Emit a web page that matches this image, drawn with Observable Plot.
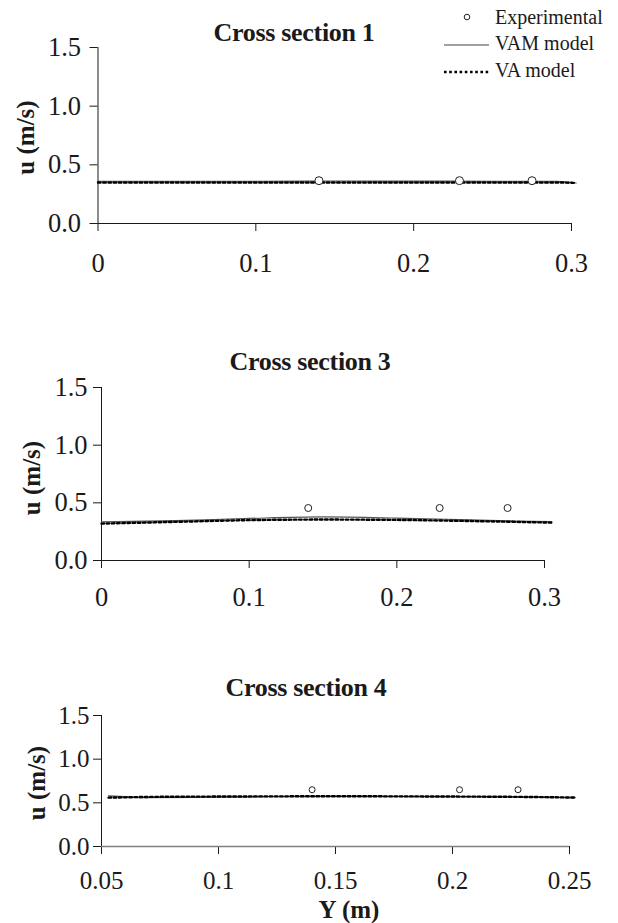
<!DOCTYPE html>
<html>
<head>
<meta charset="utf-8">
<script src="https://cdn.jsdelivr.net/npm/d3@7"></script>
<script src="https://cdn.jsdelivr.net/npm/@observablehq/plot@0.6"></script>
<style>
  html, body { margin: 0; padding: 0; background: #fff; }
  #wrap { position: relative; width: 618px; height: 923px; font-family: "Liberation Serif", "Times New Roman", serif; color: #1a1a1a; }
  .panel { position: absolute; left: 0; }
  .title { position: absolute; font-weight: bold; font-size: 26px; transform: translate(-50%, -50%); white-space: nowrap; letter-spacing: -0.3px; }
  .xlab { position: absolute; font-weight: bold; font-size: 25px; transform: translate(-50%, -50%); white-space: nowrap; }
  #legend { position: absolute; left: 0; top: 0; }
</style>
</head>
<body>
<div id="wrap"></div>
<script>
// ---------- data ----------
const titles = ["Cross section 1", "Cross section 3", "Cross section 4"];
const yLabel = "u (m/s)";
const xLabel = "Y (m)";
const legendLabels = ["Experimental", "VAM model", "VA model"];

const yTicks = [0, 0.5, 1, 1.5];
const yTickLabels = ["0.0", "0.5", "1.0", "1.5"];

// Cross section 1
const xTicks1 = [0, 0.1, 0.2, 0.3];
const xTickLabels1 = ["0", "0.1", "0.2", "0.3"];
const modelX1 = [0, 0.05, 0.1, 0.15, 0.2, 0.25, 0.29, 0.303];
const vam1 = [0.36, 0.36, 0.36, 0.362, 0.362, 0.36, 0.36, 0.345];
const va1 = [0.35, 0.35, 0.35, 0.35, 0.35, 0.35, 0.35, 0.345];
const expX1 = [0.14, 0.229, 0.275];
const expY1 = [0.365, 0.365, 0.365];

// Cross section 3
const xTicks3 = [0, 0.1, 0.2, 0.3];
const xTickLabels3 = ["0", "0.1", "0.2", "0.3"];
const modelX3 = [0, 0.05, 0.1, 0.15, 0.2, 0.25, 0.28, 0.305];
const vam3 = [0.335, 0.345, 0.365, 0.378, 0.368, 0.352, 0.342, 0.338];
const va3 = [0.32, 0.335, 0.35, 0.355, 0.352, 0.342, 0.335, 0.328];
const expX3 = [0.14, 0.229, 0.275];
const expY3 = [0.455, 0.455, 0.455];

// Cross section 4
const xTicks4 = [0.05, 0.1, 0.15, 0.2, 0.25];
const xTickLabels4 = ["0.05", "0.1", "0.15", "0.2", "0.25"];
const modelX4 = [0.053, 0.06, 0.068, 0.1, 0.15, 0.2, 0.24, 0.2525];
const vam4 = [0.58, 0.57, 0.56, 0.565, 0.575, 0.572, 0.565, 0.56];
const va4 = [0.56, 0.563, 0.567, 0.572, 0.575, 0.572, 0.565, 0.56];
const expX4 = [0.14, 0.203, 0.228];
const expY4 = [0.65, 0.65, 0.65];

// ---------- drawing ----------
const wrap = document.getElementById("wrap");
const FONT = "Liberation Serif, Times New Roman, serif";
const DOTS = "2.6,2.6";

function panel(cfg) {
  const model = cfg.modelX.map((x, i) => ({x, vam: cfg.vam[i], va: cfg.va[i]}));
  const exp = cfg.expX.map((x, i) => ({x, y: cfg.expY[i]}));
  const xFmt = new Map(cfg.xTicks.map((t, i) => [t, cfg.xTickLabels[i]]));
  const yFmt = new Map(yTicks.map((t, i) => [t, yTickLabels[i]]));
  const chart = Plot.plot({
    width: 618,
    height: cfg.height,
    marginTop: cfg.mt, marginBottom: cfg.mb, marginLeft: cfg.ml, marginRight: cfg.mr,
    style: {fontFamily: FONT, fontSize: cfg.tickFont + "px", color: "#1a1a1a", background: "transparent", overflow: "visible"},
    x: {domain: cfg.xDomain, ticks: cfg.xTicks, tickFormat: d => xFmt.get(d), tickSize: 8, tickPadding: cfg.xPad, label: null, line: !cfg.grayX},
    y: {domain: [0, 1.5], ticks: yTicks, tickFormat: d => yFmt.get(d), tickSize: 8, tickPadding: cfg.yPad, label: null, line: true},
    marks: [
      cfg.grayX ? Plot.ruleY([0], {stroke: "#808080", strokeWidth: 1.6}) : null,
      Plot.line(model, {x: "x", y: "vam", stroke: "#555", strokeWidth: 1.2, curve: "monotone-x"}),
      Plot.line(model, {x: "x", y: "va", stroke: "#000", strokeWidth: 2.4, strokeDasharray: DOTS, curve: "monotone-x"}),
      Plot.dot(exp, {x: "x", y: "y", r: cfg.r, stroke: "#222", strokeWidth: 1, fill: "white"}),
      Plot.text([yLabel], {frameAnchor: "left", rotate: -90, dx: cfg.labelDx, dy: cfg.labelDy, fontWeight: "bold", fontSize: 25, textAnchor: "middle", fill: "#1a1a1a"})
    ]
  });
  chart.classList.add("panel");
  chart.style.top = cfg.top + "px";
  wrap.appendChild(chart);

  const t = document.createElement("div");
  t.className = "title";
  t.textContent = cfg.title;
  t.style.left = cfg.titleX + "px";
  t.style.top = cfg.titleY + "px";
  wrap.appendChild(t);
}

panel({title: titles[0], titleX: 294, titleY: 33, top: 0, height: 290, mt: 47, mb: 67, ml: 97.5, mr: 47,
  xDomain: [0, 0.3], xTicks: xTicks1, xTickLabels: xTickLabels1, xPad: 22, yPad: 9, tickFont: 26.5,
  modelX: modelX1, vam: vam1, va: va1, expX: expX1, expY: expY1, r: 4, labelDx: -72, labelDy: 2});

panel({title: titles[1], titleX: 310, titleY: 362, top: 330, height: 290, mt: 57, mb: 60, ml: 101, mr: 74,
  xDomain: [0, 0.3], xTicks: xTicks3, xTickLabels: xTickLabels3, xPad: 19, yPad: 6, tickFont: 26.5,
  modelX: modelX3, vam: vam3, va: va3, expX: expX3, expY: expY3, r: 3.5, labelDx: -70, labelDy: 4});

panel({title: titles[2], titleX: 306, titleY: 688, top: 660, height: 263, mt: 55, mb: 77, ml: 101, mr: 49,
  xDomain: [0.05, 0.25], xTicks: xTicks4, xTickLabels: xTickLabels4, xPad: 17, yPad: 4, tickFont: 25,
  modelX: modelX4, vam: vam4, va: va4, expX: expX4, expY: expY4, r: 3, labelDx: -65, labelDy: 2, grayX: true});

// x-axis label of the last panel
const xl = document.createElement("div");
xl.className = "xlab";
xl.textContent = xLabel;
xl.style.left = "349px";
xl.style.top = "910px";
wrap.appendChild(xl);

// legend (top right)
const NS = "http://www.w3.org/2000/svg";
const lg = document.createElementNS(NS, "svg");
lg.setAttribute("id", "legend");
lg.setAttribute("width", "618");
lg.setAttribute("height", "90");
const rows = [17, 43, 70];
legendLabels.forEach((lab, i) => {
  const y = rows[i];
  if (i === 0) {
    const c = document.createElementNS(NS, "circle");
    c.setAttribute("cx", 467); c.setAttribute("cy", y); c.setAttribute("r", 2.8);
    c.setAttribute("fill", "white"); c.setAttribute("stroke", "#222"); c.setAttribute("stroke-width", 1);
    lg.appendChild(c);
  } else {
    const l = document.createElementNS(NS, "line");
    l.setAttribute("x1", 444); l.setAttribute("x2", 489); l.setAttribute("y1", y + 2); l.setAttribute("y2", y + 2);
    l.setAttribute("stroke", i === 1 ? "#444" : "#000");
    l.setAttribute("stroke-width", i === 1 ? 1.2 : 2.4);
    if (i === 2) l.setAttribute("stroke-dasharray", DOTS);
    lg.appendChild(l);
  }
  const tx = document.createElementNS(NS, "text");
  tx.setAttribute("x", 495); tx.setAttribute("y", y);
  tx.setAttribute("dy", "0.35em");
  tx.setAttribute("font-family", FONT);
  tx.setAttribute("font-size", 20);
  tx.setAttribute("fill", "#1a1a1a");
  tx.textContent = lab;
  lg.appendChild(tx);
});
wrap.appendChild(lg);
</script>
</body>
</html>
